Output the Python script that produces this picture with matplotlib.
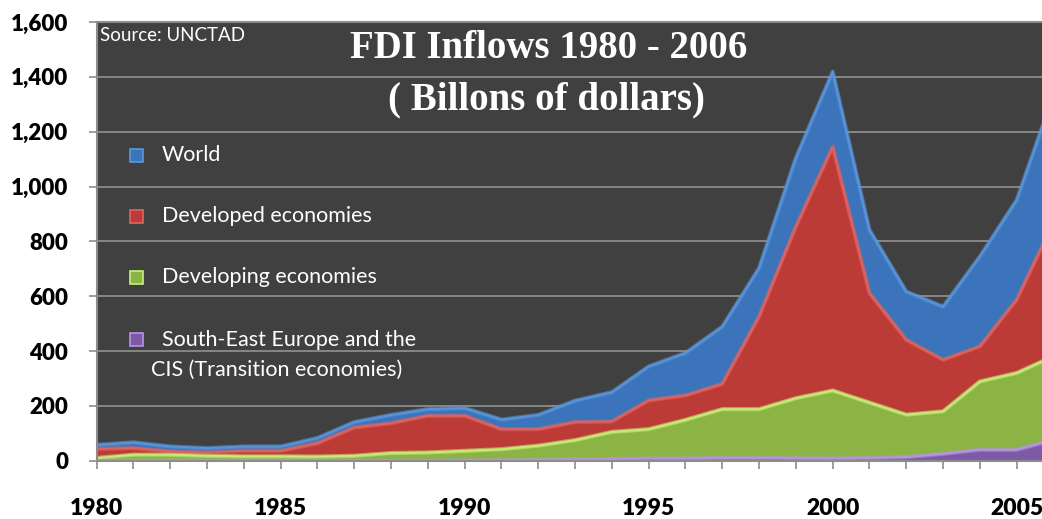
import matplotlib
matplotlib.use("Agg")
import matplotlib.pyplot as plt
from matplotlib.patches import Rectangle
from matplotlib.ticker import MultipleLocator, FuncFormatter

# FDI inflows, billions of US dollars
years = list(range(1980, 2007))
world = [58, 67, 52, 46, 52, 52, 83, 141, 167, 188, 192, 150, 167, 219, 250,
         344, 393, 489, 703, 1105, 1419, 842, 617, 562, 745, 951, 1335]
developed = [43, 46, 34, 30, 36, 36, 64, 121, 137, 164, 164, 115, 115, 141, 143,
             220, 238, 280, 526, 854, 1145, 611, 441, 368, 417, 587, 869]
developing = [10, 22, 22, 18, 16, 16, 15, 18, 28, 30, 36, 42, 55, 75, 105,
              115, 149, 188, 188, 228, 256, 212, 168, 180, 289, 320, 381]
transition = [0, 0, 0, 0, 0, 0, 0, 0, 0, 0, 1, 2, 3, 5, 6,
              8, 8, 10, 10, 9, 8, 10, 13, 25, 40, 40, 76]

labels = ["World", "Developed economies", "Developing economies",
          "South-East Europe and the\nCIS (Transition economies)"]
fills = ["#3b74ba", "#bd3b37", "#8cb445", "#7c5aa6"]
edges = ["#5b97de", "#e06460", "#c9f27c", "#b894e6"]

W, H = 1042, 519
fig = plt.figure(figsize=(W / 100, H / 100), dpi=100)

# plot area runs past the right edge of the figure (2006 is cut off)
x0, x1, y0, y1 = 96.7, 1053.5, 460.7, 22
ax = fig.add_axes([x0 / W, 1 - y0 / H, (x1 - x0) / W, (y0 - y1) / H])
ax.set_facecolor("#404040")

for vals, fc, ec in zip([world, developed, developing, transition], fills, edges):
    ax.fill_between(years, 0, vals, color=fc, lw=0, zorder=2)
    ax.plot(years, vals, color=ec, lw=3, alpha=0.55, zorder=2.1,
            solid_joinstyle="round")
    ax.plot(years, vals, color=ec, lw=1.4, alpha=0.9, zorder=2.2,
            solid_joinstyle="round")

ax.set_xlim(1980, 2006)
ax.set_ylim(0, 1600)

grid_c = "#8c8c8c"
ax.yaxis.set_major_locator(MultipleLocator(200))
ax.yaxis.set_major_formatter(FuncFormatter(lambda v, p: f"{int(v):,}"))
ax.xaxis.set_major_locator(MultipleLocator(1))
ax.xaxis.set_major_formatter(FuncFormatter(
    lambda v, p: str(int(round(v))) if int(round(v)) % 5 == 0 else ""))
ax.grid(axis="y", color=grid_c, lw=1.3, zorder=1)
ax.set_axisbelow(True)

for s in ["left", "bottom", "top"]:
    ax.spines[s].set_color(grid_c)
    ax.spines[s].set_linewidth(1.5)
ax.spines["right"].set_visible(False)

ax.tick_params(axis="y", length=5.5, width=1.2, color=grid_c, pad=15)
ax.tick_params(axis="x", length=5.5, width=1.2, color=grid_c, pad=21)
for t in ax.get_yticklabels():
    t.set_fontfamily("Lato")
    t.set_fontweight("heavy")
    t.set_fontsize(16)
for t in ax.get_xticklabels():
    t.set_fontfamily("Lato")
    t.set_fontweight("heavy")
    t.set_fontsize(16.5)

# titles and source note
fig.text(549 / W, 1 - 48 / H, "FDI Inflows 1980 - 2006", ha="center", va="center",
         color="white", fontsize=28, fontweight="bold", family="Liberation Serif")
fig.text(546 / W, 1 - 100 / H, "( Billons of dollars)", ha="center", va="center",
         color="white", fontsize=28, fontweight="bold", family="Liberation Serif")
fig.text(100 / W, 1 - 35.5 / H, "Source: UNCTAD", ha="left", va="center",
         color="white", fontsize=13.5, family="Lato")

# legend drawn inside the plot area
rows = [155, 216.5, 277, 339.5]
for lab, fc, ec, yy in zip(labels, fills, edges, rows):
    fig.patches.append(Rectangle(((136 - 6.5) / W, 1 - (yy + 6.5) / H), 13 / W, 13 / H,
                                 transform=fig.transFigure, facecolor=fc,
                                 edgecolor=ec, lw=1.2))
first, *rest = labels[3].split("\n")
for lab, yy in zip(labels[:3] + [first], rows):
    fig.text(161.5 / W, 1 - yy / H, lab, ha="left", va="center",
             color="white", fontsize=15.5, family="Lato")
fig.text(151 / W, 1 - 369.5 / H, rest[0], ha="left", va="center",
         color="white", fontsize=15.5, family="Lato")

fig.savefig("out.png", dpi=100, facecolor="white")
